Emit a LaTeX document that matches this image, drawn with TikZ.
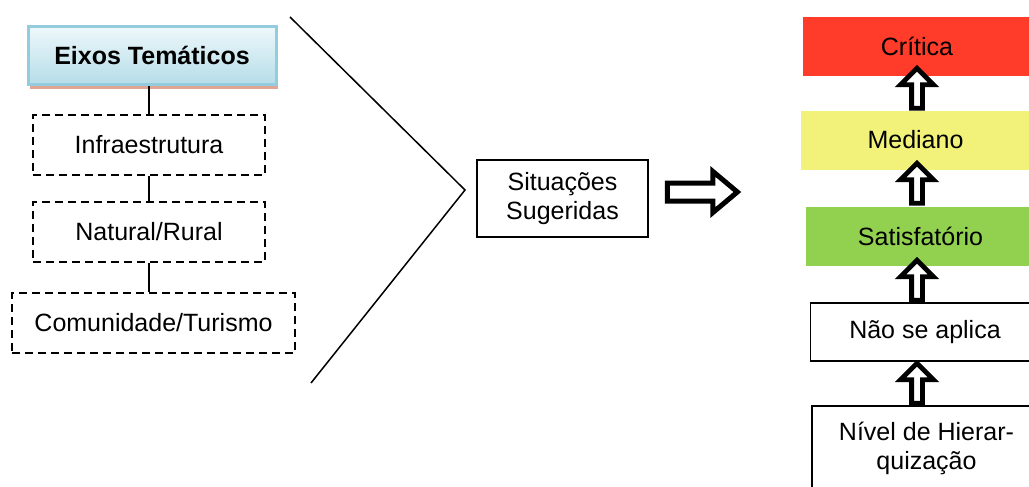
\documentclass[tikz,border=0pt]{standalone}
\usepackage{fontspec}
\setmainfont{Liberation Sans}
\usetikzlibrary{shapes, arrows, positioning, shadows}
\definecolor{eixotopo}{HTML}{EEF8FB}
\definecolor{eixobase}{HTML}{B6DDE8}
\definecolor{eixoborda}{HTML}{93CDDD}
\definecolor{eixosombra}{HTML}{E0A593}
\definecolor{critica}{HTML}{FF3B2A}
\definecolor{mediano}{HTML}{F2F27A}
\definecolor{satisf}{HTML}{92D050}
\newcommand{\fonte}{\fontsize{12.5}{14.5}\selectfont}
\tikzstyle{titulo} = [rectangle, draw=eixoborda, line width=1.5pt, top color=eixotopo, bottom color=eixobase, minimum width=124pt, minimum height=29pt, font=\fonte\bfseries, drop shadow={shadow xshift=1pt, shadow yshift=-2.5pt, fill=eixosombra, opacity=1}]
\tikzstyle{eixo} = [rectangle, draw, line width=1pt, dash pattern=on 4pt off 2.5pt, minimum height=30pt]
\tikzstyle{caixa} = [rectangle, draw, line width=0.8pt, align=center]
\tikzstyle{nivel} = [rectangle, minimum width=114.5pt, minimum height=29.5pt, align=center]
\tikzstyle{seta} = [single arrow, draw, fill=white, line width=2.4pt, inner sep=1.5pt, minimum height=20pt, single arrow head extend=5.5pt, shape border rotate=90]

\begin{document}
\begin{tikzpicture}[x=0.5pt, y=-0.5pt, font=\fonte]
	\useasboundingbox (0,0) rectangle (1029,487);
	% eixos tematicos
	\node [titulo] (eixos) at (152,55) {Eixos Temáticos};
	\node [eixo, minimum width=116pt] (infra) at (149,145) {Infraestrutura};
	\node [eixo, minimum width=116pt] (natural) at (149,232) {Natural/Rural};
	\node [eixo, minimum width=141.5pt] (comunidade) at (153.5,323) {Comunidade/Turismo};
	\draw [line width=0.8pt] (infra.north) -- (infra.north |- eixos.south);
	\draw [line width=0.8pt] (infra.south) -- (infra.south |- natural.north);
	\draw [line width=0.8pt] (natural.south) -- (natural.south |- comunidade.north);
	% chave
	\coordinate (topo) at (290,17);
	\coordinate (bico) at (465,190);
	\coordinate (base) at (311,383);
	\draw [line width=0.75pt] (topo) -- (bico) -- (base);
	\node [caixa, minimum width=85.5pt, minimum height=38.5pt] (situacoes) at (562.5,198.5) {Situações\\Sugeridas};
	\node [single arrow, draw, fill=white, line width=2.5pt, inner sep=3.25pt, minimum height=35pt, single arrow head extend=5.75pt, single arrow tip angle=80] (passa) at (697,192) {};
	% niveis
	\node [nivel, fill=critica] (crit) at (917,46.5) {Crítica};
	\node [nivel, fill=mediano] (med) at (915.5,140) {Mediano};
	\node [nivel, fill=satisf] (sat) at (920.5,236.5) {Satisfatório};
	\node [nivel, caixa, minimum height=29pt] (naoaplica) at (925,332) {Não se aplica};
	\node [nivel, caixa, minimum height=42pt] (hierarq) at (926.5,448) {Nível de Hierar-\\quização};
	\node [seta] (s1) at (917,91) {};
	\node [seta] (s2) at (917,186) {};
	\node [seta] (s3) at (917,283) {};
	\node [seta] (s4) at (917,386) {};
\end{tikzpicture}
\end{document}
